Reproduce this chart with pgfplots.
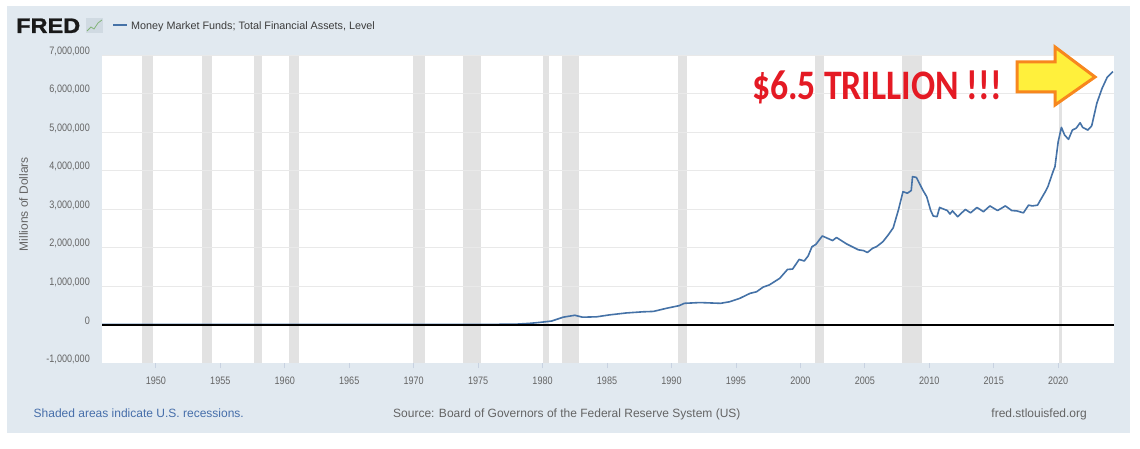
\documentclass[border=0pt]{standalone}
\usepackage{pgfplots}
\pgfplotsset{compat=1.18}
\usepackage{pgfplotstable}
\usepackage{fontspec}
\setmainfont{Liberation Sans}
\newfontfamily\tickfont[FakeStretch=0.84]{Liberation Sans}
\newfontfamily\fredfont[FakeStretch=1.12, BoldFeatures={FakeBold=1.2}]{Liberation Sans}
\newfontfamily\calib[FakeStretch=0.85]{Carlito}
\definecolor{bgc}{RGB}{225,233,240}
\definecolor{bandc}{RGB}{226,226,226}
\definecolor{gridc}{RGB}{233,233,233}
\definecolor{linec}{RGB}{69,114,167}
\definecolor{tickc}{RGB}{100,100,100}
\definecolor{xtc}{RGB}{200,210,225}
\definecolor{legc}{RGB}{60,60,60}
\definecolor{shadec}{RGB}{70,110,170}
\definecolor{srcc}{RGB}{100,100,100}
\definecolor{annred}{RGB}{228,26,36}
\definecolor{arrfill}{RGB}{255,240,60}
\definecolor{arrdraw}{RGB}{247,135,30}
\definecolor{fredc}{RGB}{25,25,25}
\definecolor{iconbg}{RGB}{208,218,226}
\definecolor{iconln}{RGB}{130,180,120}

\pgfplotstableread{
year value
1945.75 0
1955 0
1965 0
1972 0
1974 1000
1976 3000
1978 10000
1979.0 30000
1979.8 55000
1980.7 90000
1981.6 190000
1982.5 240000
1983.1 190000
1984.2 200000
1985.2 250000
1986.5 300000
1987.8 330000
1988.6 340000
1989.6 420000
1990.6 490000
1991.0 550000
1992.2 570000
1993.8 550000
1994.5 590000
1995.3 680000
1996.1 810000
1996.6 850000
1997.1 970000
1997.6 1030000
1998.4 1200000
1999.0 1430000
1999.4 1440000
1999.9 1690000
2000.3 1650000
2000.6 1780000
2000.9 2020000
2001.2 2080000
2001.7 2300000
2002.1 2240000
2002.5 2180000
2002.8 2260000
2003.6 2090000
2004.5 1940000
2004.9 1920000
2005.2 1870000
2005.6 1980000
2005.9 2020000
2006.4 2150000
2006.8 2320000
2007.2 2510000
2007.6 2970000
2007.96 3450000
2008.3 3410000
2008.6 3480000
2008.7 3840000
2009.0 3820000
2009.5 3490000
2009.8 3320000
2010.1 2970000
2010.3 2820000
2010.6 2800000
2010.8 3040000
2011.4 2960000
2011.6 2870000
2011.8 2950000
2012.2 2800000
2012.8 2990000
2013.2 2900000
2013.7 3040000
2014.2 2930000
2014.7 3080000
2015.3 2960000
2015.9 3080000
2016.4 2960000
2016.8 2950000
2017.3 2900000
2017.7 3100000
2018.0 3080000
2018.4 3100000
2018.6 3220000
2019.0 3450000
2019.2 3580000
2019.6 3970000
2019.75 4100000
2020.0 4750000
2020.25 5120000
2020.5 4920000
2020.8 4810000
2021.1 5050000
2021.4 5100000
2021.7 5240000
2021.9 5120000
2022.3 5050000
2022.6 5160000
2023.0 5750000
2023.4 6130000
2023.8 6420000
2024.25 6570000
}\mmf

\begin{document}
\begin{tikzpicture}
\begin{scope}[x=1pt,y=1pt]
\useasboundingbox (0,0) rectangle (1140,448);
\fill[white] (0,0) rectangle (1140,448);
\fill[bgc] (7,15) rectangle (1130,442);
% FRED logo
\node[anchor=base west, inner sep=0pt, font=\fredfont\bfseries\fontsize{21}{21}\selectfont, text=fredc] at (16,415) {FRED};
\fill[iconbg] (86,415) rectangle (103,430);
\draw[iconln, line width=0.8pt] (87,417) -- (91,421) -- (94,419) -- (98,425) -- (102,428);
% legend
\draw[linec, line width=2pt] (113,423) -- (127,423);
\node[anchor=base west, inner sep=0pt, font=\fontsize{10.8}{12}\selectfont, text=legc] at (131,418.7) {Money Market Funds; Total Financial Assets, Level};
\end{scope}

\begin{axis}[
  at={(102pt,85pt)}, anchor=south west,
  width=1012pt, height=308pt, scale only axis,
  xmin=1945.82, xmax=2024.33, ymin=-1000000, ymax=7000000,
  axis line style={draw=none},
  axis background/.style={fill=white},
  xtick={1950,1955,...,2020},
  ytick={-1000000,0,1000000,2000000,3000000,4000000,5000000,6000000,7000000},
  scaled y ticks=false,
  /pgf/number format/assume math mode=true,
  y tick label style={/pgf/number format/fixed, /pgf/number format/1000 sep={,}},
  x tick label style={/pgf/number format/1000 sep={}},
  ticklabel style={font=\tickfont\fontsize{10.8}{12}\selectfont, text=tickc},
  tick align=outside,
  major tick length=5pt,
  x tick style={draw=xtc, line width=0.8pt},
  y tick style={draw=none},
  xtick pos=bottom, ytick pos=left,
  yticklabel style={inner sep=0pt, xshift=-7pt, yshift=4pt},
  xticklabel style={inner sep=0pt, yshift=-9pt},
  clip=true,
]
% recession bands
\addplot[fill=bandc, draw=none] coordinates {(1948.9,-1000000) (1948.9,7000000) (1949.8,7000000) (1949.8,-1000000)} -- cycle;
\addplot[fill=bandc, draw=none] coordinates {(1953.55,-1000000) (1953.55,7000000) (1954.35,7000000) (1954.35,-1000000)} -- cycle;
\addplot[fill=bandc, draw=none] coordinates {(1957.6,-1000000) (1957.6,7000000) (1958.25,7000000) (1958.25,-1000000)} -- cycle;
\addplot[fill=bandc, draw=none] coordinates {(1960.3,-1000000) (1960.3,7000000) (1961.1,7000000) (1961.1,-1000000)} -- cycle;
\addplot[fill=bandc, draw=none] coordinates {(1969.95,-1000000) (1969.95,7000000) (1970.85,7000000) (1970.85,-1000000)} -- cycle;
\addplot[fill=bandc, draw=none] coordinates {(1973.85,-1000000) (1973.85,7000000) (1975.2,7000000) (1975.2,-1000000)} -- cycle;
\addplot[fill=bandc, draw=none] coordinates {(1980.0,-1000000) (1980.0,7000000) (1980.5,7000000) (1980.5,-1000000)} -- cycle;
\addplot[fill=bandc, draw=none] coordinates {(1981.5,-1000000) (1981.5,7000000) (1982.85,7000000) (1982.85,-1000000)} -- cycle;
\addplot[fill=bandc, draw=none] coordinates {(1990.5,-1000000) (1990.5,7000000) (1991.2,7000000) (1991.2,-1000000)} -- cycle;
\addplot[fill=bandc, draw=none] coordinates {(2001.17,-1000000) (2001.17,7000000) (2001.85,7000000) (2001.85,-1000000)} -- cycle;
\addplot[fill=bandc, draw=none] coordinates {(2007.92,-1000000) (2007.92,7000000) (2009.42,7000000) (2009.42,-1000000)} -- cycle;
\addplot[fill=bandc, draw=none] coordinates {(2020.08,-1000000) (2020.08,7000000) (2020.3,7000000) (2020.3,-1000000)} -- cycle;
% grid lines
\pgfplotsinvokeforeach{1,2,3,4,5,6,7}{
  \addplot[gridc, line width=1pt] coordinates {(1945.82,#1000000) (2024.33,#1000000)};
}
% series
\addplot[linec, line width=1.6pt, line join=round] table[x=year, y=value] {\mmf};
% zero line
\addplot[black, line width=2pt] coordinates {(1945.82,0) (2024.33,0)};
\end{axis}

\begin{scope}[x=1pt,y=1pt]
% axis title
\node[rotate=90, anchor=base, inner sep=0pt, font=\fontsize{12}{12}\selectfont, text=tickc] at (28,244) {Millions of Dollars};
% footer
\node[anchor=base east, inner sep=0pt, font=\fontsize{12}{12}\selectfont, text=shadec] at (244,31) {Shaded areas indicate U.S. recessions.};
\node[anchor=base west, inner sep=0pt, font=\fontsize{12}{12}\selectfont, text=srcc] at (393,31) {Source: Board of Governors of the Federal Reserve System (US)};
\node[anchor=base east, inner sep=0pt, font=\fontsize{12}{12}\selectfont, text=srcc] at (1087,31) {fred.stlouisfed.org};
% annotation
\node[anchor=base west, inner sep=0pt, font=\calib\bfseries\fontsize{42}{42}\selectfont, text=annred] at (752,348) {\$6.5 TRILLION !!!};
\draw[fill=arrfill, draw=arrdraw, line width=3pt, line join=miter]
  (1017,386) -- (1055,386) -- (1055,401) -- (1095,371) -- (1055,343) -- (1055,356) -- (1017,356) -- cycle;
\end{scope}
\end{tikzpicture}
\end{document}
